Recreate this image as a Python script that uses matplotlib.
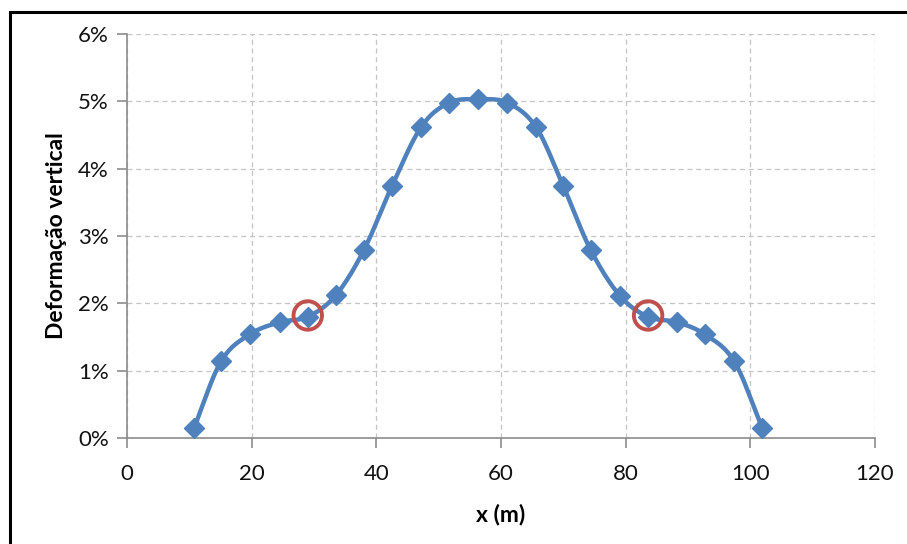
import matplotlib

matplotlib.use("Agg")
import matplotlib.pyplot as plt
import numpy as np
from matplotlib.patches import Rectangle
from matplotlib.ticker import FuncFormatter

plt.rcParams["font.family"] = ["Lato", "DejaVu Sans"]

# data
x_m = [10.75, 15.1, 19.7, 24.5, 29.0, 33.5, 38.0, 42.5, 47.2, 51.7, 56.3,
       61.0, 65.6, 70.0, 74.4, 79.1, 83.6, 88.2, 92.7, 97.4, 101.9]
deform = [0.0015, 0.0114, 0.0154, 0.0172, 0.0180, 0.0212, 0.0279, 0.0374,
          0.0462, 0.0498, 0.0503, 0.0498, 0.0462, 0.0374, 0.0279, 0.0211,
          0.0180, 0.0172, 0.0154, 0.0114, 0.0015]
circle_x = [29.0, 83.6]
circle_y = [0.0182, 0.0182]

BLUE = "#4f81bd"
RED = "#c0504d"
GRID = "#c4c4c4"
AXIS = "#8c8c8c"


def smooth(x, y, n=20):
    # Catmull-Rom curve through the points (like Excel's smoothed line)
    x = np.asarray(x, float)
    y = np.asarray(y, float)
    px = np.concatenate([[2 * x[0] - x[1]], x, [2 * x[-1] - x[-2]]])
    py = np.concatenate([[2 * y[0] - y[1]], y, [2 * y[-1] - y[-2]]])
    t = np.linspace(0, 1, n, endpoint=False)
    xs, ys = [], []
    for i in range(1, len(px) - 2):
        for p, out in ((px, xs), (py, ys)):
            p0, p1, p2, p3 = p[i - 1], p[i], p[i + 1], p[i + 2]
            out.extend(0.5 * (2 * p1 + (-p0 + p2) * t
                              + (2 * p0 - 5 * p1 + 4 * p2 - p3) * t ** 2
                              + (-p0 + 3 * p1 - 3 * p2 + p3) * t ** 3))
    xs.append(x[-1])
    ys.append(y[-1])
    return np.array(xs), np.array(ys)


fig = plt.figure(figsize=(9.07, 5.44), dpi=100)
ax = fig.add_axes([127 / 907, 1 - 438 / 544, 748 / 907, 404 / 544])

sx, sy = smooth(x_m, deform)
ax.plot(sx, sy, color=BLUE, lw=3.2, solid_capstyle="round", zorder=3)
ax.plot(x_m, deform, ls="none", marker="D", ms=10.5, color=BLUE, zorder=4)
ax.scatter(circle_x, circle_y, s=420, facecolors="none", edgecolors=RED,
           linewidths=2.8, zorder=5)

ax.set_xlim(0, 120)
ax.set_ylim(0, 0.06)
ax.set_xticks(np.arange(0, 121, 20))
ax.set_yticks(np.arange(0, 0.061, 0.01))
ax.yaxis.set_major_formatter(FuncFormatter(lambda v, _: f"{v * 100:.0f}%"))
ax.grid(True, color=GRID, ls=(0, (4, 3)), lw=0.9)
ax.set_axisbelow(True)
for s in ("top", "right"):
    ax.spines[s].set_visible(False)
for s in ("left", "bottom"):
    ax.spines[s].set_color(AXIS)
    ax.spines[s].set_linewidth(1.2)
ax.tick_params(axis="both", colors=AXIS, length=7, width=1.2,
               labelsize=16, labelcolor="#111111", pad=6)
ax.tick_params(axis="x", pad=12)
ax.set_xlabel("x (m)", fontsize=16.5, fontweight="bold", labelpad=14)
ax.set_ylabel("Deformação vertical", fontsize=16.5, fontweight="bold",
              labelpad=8)

# black frame around the chart (runs off right/bottom edge)
fig.patches.append(Rectangle((10 / 907, -0.05), 1.0, 1 - 12 / 544 + 0.05,
                             transform=fig.transFigure, fill=False,
                             edgecolor="black", lw=2.2))

fig.savefig("out.png", dpi=100)
